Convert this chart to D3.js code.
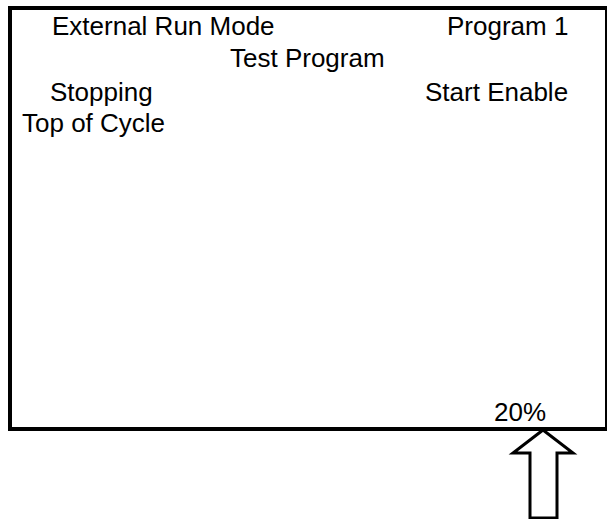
<!DOCTYPE html>
<html>
<head>
<meta charset="utf-8">
<script src="https://cdn.jsdelivr.net/npm/d3@7"></script>
<style>
  html, body { margin: 0; padding: 0; background: #fff; }
  svg { display: block; }
</style>
</head>
<body>
<div id="chart"></div>
<script>
// Display texts shown on the screen panel
const statusLabels = ["External Run Mode", "Program 1", "Test Program", "Stopping", "Start Enable", "Top of Cycle"];
const percentValue = [20];
const percentLabel = ["20%"];

// Layout (positions kept separate from data)
const W = 608, H = 519;
const labelPos = [
  [52, 35], [447, 35], [230, 67], [50, 101], [425, 101], [22, 132]
];

const svg = d3.select("#chart").append("svg")
  .attr("width", W).attr("height", H);

// Panel border
const bx0 = 10, by0 = 8, bx1 = 606, by1 = 429;
const border = svg.append("g").attr("stroke", "#000").attr("fill", "none");
border.append("line").attr("x1", 8).attr("y1", by0).attr("x2", 607).attr("y2", by0).attr("stroke-width", 4);
border.append("line").attr("x1", bx0).attr("y1", 6).attr("x2", bx0).attr("y2", 431).attr("stroke-width", 4);
border.append("line").attr("x1", 8).attr("y1", by1).attr("x2", 607).attr("y2", by1).attr("stroke-width", 4);
border.append("line").attr("x1", bx1).attr("y1", 6).attr("x2", bx1).attr("y2", 431).attr("stroke-width", 2);

// Texts
svg.append("g")
  .selectAll("text")
  .data(statusLabels)
  .join("text")
  .attr("x", (d, i) => labelPos[i][0])
  .attr("y", (d, i) => labelPos[i][1])
  .attr("font-family", "'Liberation Sans', Arial, sans-serif")
  .attr("font-size", 26)
  .attr("fill", "#000")
  .text(d => d);

svg.append("text")
  .datum(percentLabel[0])
  .attr("x", 494).attr("y", 421)
  .attr("font-family", "'Liberation Sans', Arial, sans-serif")
  .attr("font-size", 26)
  .attr("fill", "#000")
  .text(d => d);

// Arrow pointing at the percentage
const tipX = 543, tipY = 430;
const arrowPts = [
  [tipX, tipY], [tipX + 30, 453], [tipX + 14, 453], [tipX + 14, 518],
  [tipX - 13, 518], [tipX - 13, 453], [tipX - 30, 453]
];
svg.append("path")
  .attr("d", d3.line()(arrowPts) + "Z")
  .attr("fill", "#fff")
  .attr("stroke", "#000")
  .attr("stroke-width", 3)
  .attr("stroke-linejoin", "miter");
</script>
</body>
</html>
